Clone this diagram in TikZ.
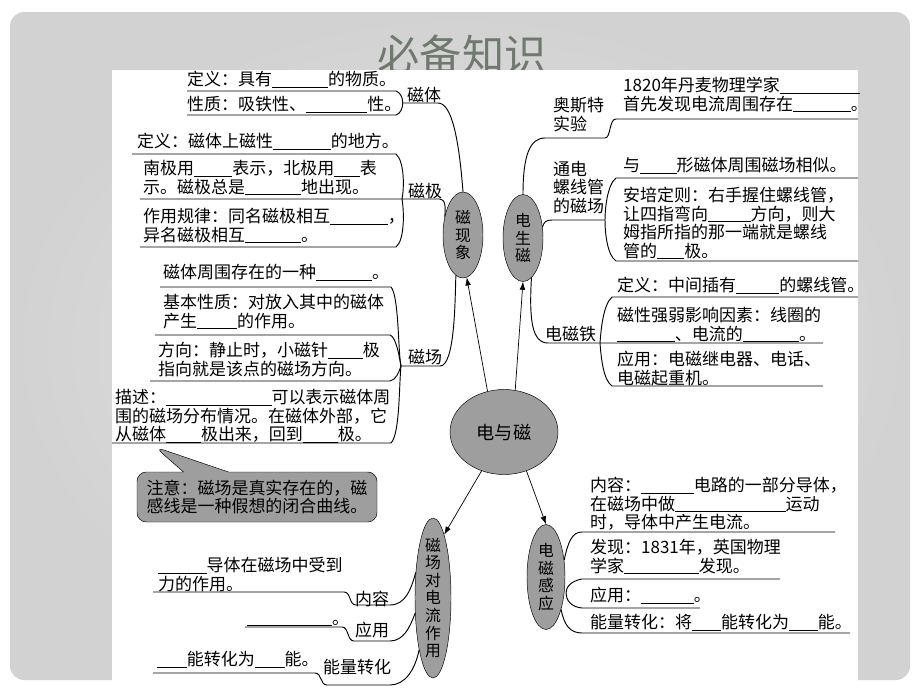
\documentclass[tikz,border=0pt]{standalone}
\usepackage{fontspec}
\setmainfont{Noto Sans CJK SC}
\usetikzlibrary{arrows.meta,shapes.geometric,shapes.callouts}
\definecolor{bubble}{RGB}{158,158,158}
\definecolor{slidein}{RGB}{228,228,228}
\definecolor{slideout}{RGB}{210,210,210}
\definecolor{heading}{RGB}{112,120,112}
\newcommand{\px}{0.3mm}
\newcommand{\bk}[1]{\rule[-1.5pt]{#1em}{0.6pt}}
\newcommand{\bodyfont}{\fontsize{14.5}{15.8}\selectfont}
\begin{document}
\begin{tikzpicture}[x=\px, y=-\px,
  txt/.style={anchor=north west, align=left, inner sep=0pt, font=\bodyfont},
  topic/.style={ellipse, draw, fill=bubble, inner sep=0pt, align=center, font=\fontsize{13.5}{15}\selectfont},
  link/.style={-{Latex[length=2.4mm,width=1.7mm]}, line width=0.6pt},
  branch/.style={line width=0.8pt}]
\useasboundingbox (0,0) rectangle (920,690);
\fill[white] (0,0) rectangle (920,690);
\shade[inner color=slidein, outer color=slideout, rounded corners=12] (10,12) rectangle (910,680);
\node[font=\fontsize{36}{36}\selectfont, text=heading] (title) at (462,54) {必备知识};
\fill[white] (112,70) rectangle (858,688);

% topics
\node[topic, minimum width=108*\px, minimum height=85*\px, font=\fontsize{15.5}{17}\selectfont] (root) at (504,432) {电与磁};
\node[topic, minimum width=40*\px, minimum height=86*\px] (phen) at (463,235) {磁\\现\\象};
\node[topic, minimum width=40*\px, minimum height=87*\px] (elec) at (523,238) {电\\生\\磁};
\node[topic, minimum width=36*\px, minimum height=160*\px, inner ysep=-6pt] (force) at (433,598) {磁\\场\\对\\电\\流\\作\\用};
\node[topic, minimum width=38*\px, minimum height=105*\px] (induct) at (546,577) {电\\磁\\感\\应};

\draw[link] (root.112) -- (phen.-85);
\draw[link] (root.75) -- (elec.south);
\draw[link] (root.240) -- (force.80);
\draw[link] (root.300) -- (induct.north);

% 磁体
\node[txt] (ti1) at (187,71) {定义：具有\bk{3.3}的物质。};
\node[txt] (ti2) at (187,96) {性质：吸铁性、\bk{3.6}性。};
\node[txt] (lti) at (407,87) {磁体};
\draw[branch] (phen.north) .. controls (459,140) and (452,103) .. (438,103) -- (403,103);
\draw[branch] (187,91) -- (396,91) .. controls (405,94) and (405,112) .. (396,115) -- (187,115);

% 磁极
\node[txt] (ji1) at (137,133) {定义：磁体上磁性\bk{3.4}的地方。};
\node[txt] (ji2) at (143,160) {南极用\bk{2.25}表示，北极用\bk{1.5}表\\示。磁极总是\bk{3.3}地出现。};
\node[txt] (ji3) at (143,208) {作用规律：同名磁极相互\bk{3.4}，\\异名磁极相互\bk{3.3}。};
\node[txt] (lji) at (408,183) {磁极};
\draw[branch] (132,154) -- (396,154) .. controls (405,162) and (404,190) .. (402,199) .. controls (404,210) and (405,240) .. (396,247) -- (140,247);
\draw[branch] (140,199) -- (440,199) .. controls (445,199) and (446,207) .. (phen.135);

% 磁场
\node[txt] (ch1) at (163,264) {磁体周围存在的一种\bk{3.3}。};
\node[txt] (ch2) at (163,294) {基本性质：对放入其中的磁体\\产生\bk{2.35}的作用。};
\node[txt] (ch3) at (158,342) {方向：静止时，小磁针\bk{2.05}极\\指向就是该点的磁场方向。};
\node[txt] (ch4) at (115,389) {描述：\bk{6.2}可以表示磁体周\\围的磁场分布情况。在磁体外部，它\\从磁体\bk{2.05}极出来，回到\bk{2.05}极。};
\node[txt] (lch) at (408,349) {磁场};
\draw[branch] (160,287) -- (391,287) .. controls (399,296) and (398,352) .. (401,366) .. controls (399,384) and (400,434) .. (391,443) -- (112,443);
\draw[branch] (155,335) -- (390,335) .. controls (396,337) and (399,355) .. (401,366);
\draw[branch] (150,381) -- (390,381) .. controls (396,380) and (399,372) .. (401,366);
\draw[branch] (401,366) -- (440,366) .. controls (455,366) and (455,300) .. (phen.-100);

\node[rectangle callout, draw, fill=bubble, rounded corners=8pt, minimum width=240*\px, minimum height=50*\px,
  callout absolute pointer={(155,447)}, callout pointer width=45*\px, align=left, font=\bodyfont, inner sep=0pt] (note) at (257,497)
  {注意：磁场是真实存在的，磁\\感线是一种假想的闭合曲线。};

% 磁场对电流作用
\node[txt] (nr) at (158,557) {\bk{2.85}导体在磁场中受到\\力的作用。};
\node[txt, anchor=base west] (yy) at (247,624) {\bk{5}。};
\node[txt] (nl) at (157,651) {\bk{1.75}能转化为\bk{1.75}能。};
\node[txt] (lnr) at (355,591) {内容};
\node[txt] (lyy) at (355,622) {应用};
\node[txt] (lnl) at (323,659) {能量转化};
\draw[branch] (153,592) -- (344,592) .. controls (351,592) and (349,605) .. (356,605) -- (390,605) .. controls (405,605) and (411,590) .. (force.124);
\draw[branch] (245,627) -- (342,627) .. controls (349,627) and (347,641) .. (354,641) -- (390,641) .. controls (403,641) and (410,628) .. (force.-140);
\draw[branch] (153,673) -- (315,673) .. controls (322,673) and (320,685) .. (327,685) -- (390,685) .. controls (405,685) and (415,670) .. (force.-105);

% 电生磁
\node[txt] (ao1) at (623,77) {1820年丹麦物理学家\bk{4.7}\\首先发现电流周围存在\bk{3.4}。};
\node[txt] (lao) at (553,97) {奥斯特\\实验};
\draw[branch] (elec.north) .. controls (523,155) and (530,138) .. (545,138) -- (605,138) .. controls (611,138) and (609,119) .. (616,119) -- (858,119);
\node[txt] (lg1) at (623,157) {与\bk{2.15}形磁体周围磁场相似。};
\node[txt] (lg2) at (623,187) {安培定则：右手握住螺线管，\\让四指弯向\bk{2.5}方向，则大\\姆指所指的那一端就是螺线\\管的\bk{1.6}极。};
\node[txt] (llg) at (553,161) {通电\\螺线管\\的磁场};
\draw[branch] (elec.30) .. controls (544,222) and (546,220) .. (552,220) -- (605,220);
\draw[branch] (858,178) -- (616,178) .. controls (607,185) and (605,210) .. (605,220) .. controls (605,232) and (607,255) .. (616,261) -- (858,261);
\node[txt] (dt1) at (617,277) {定义：中间插有\bk{2.55}的螺线管。};
\node[txt] (dt2) at (617,307) {磁性强弱影响因素：线圈的\\\bk{3.4}、电流的\bk{3.3}。};
\node[txt] (dt3) at (617,351) {应用：电磁继电器、电话、\\电磁起重机。};
\node[txt] (ldt) at (545,326) {电磁铁};
\draw[branch] (elec.-78) .. controls (529,320) and (532,343) .. (548,343) -- (823,343);
\draw[branch] (858,297) -- (612,297) .. controls (603,305) and (601,330) .. (600,343) .. controls (601,356) and (603,380) .. (612,386) -- (823,386);

% 电磁感应
\node[txt] (gy1) at (590,477) {内容：\bk{3.1}电路的一部分导体，\\在磁场中做\bk{6.5}运动\\时，导体中产生电流。};
\node[txt] (gy2) at (590,539) {发现：1831年，英国物理\\学家\bk{4.4}发现。};
\node[txt] (gy3) at (590,587) {应用：\bk{3.1}。};
\node[txt] (gy4) at (590,614) {能量转化：将\bk{1.7}能转化为\bk{1.7}能。};
\draw[branch] (induct.43) .. controls (568,542) and (572,532) .. (582,532) -- (835,532);
\draw[branch] (780,579) -- (582,579) .. controls (571,581) and (566,587) .. (566,593) .. controls (566,600) and (571,607) .. (582,608) -- (700,608);
\draw[branch] (induct.-65) .. controls (564,625) and (570,633) .. (582,633) -- (850,633);
\end{tikzpicture}
\end{document}
